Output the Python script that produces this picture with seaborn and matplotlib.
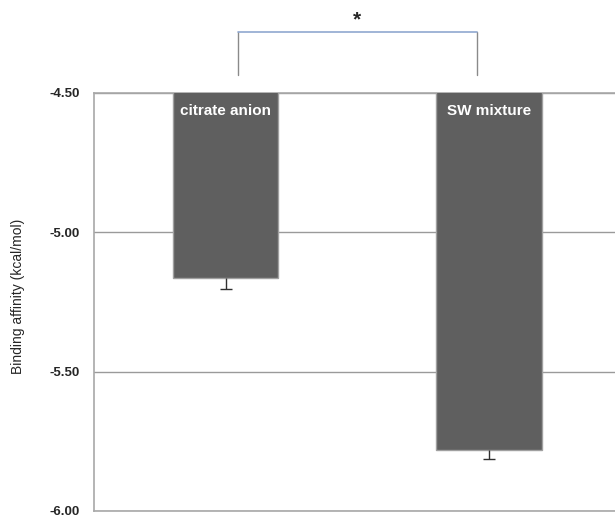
import matplotlib
matplotlib.use("Agg")
import matplotlib.pyplot as plt
import seaborn as sns
import pandas as pd

# Docking results: mean binding affinity and its error per ligand
ligands = ["citrate anion", "SW mixture"]
affinity = [-5.165, -5.78]
errors = [0.04, 0.035]
yticks = [-6.00, -5.50, -5.00, -4.50]
ylabel = "Binding affinity (kcal/mol)"
significance = "*"

df = pd.DataFrame({"ligand": ligands, "affinity": affinity})

sns.set_style("white")
plt.rcParams["font.family"] = ["Liberation Sans", "DejaVu Sans"]

fig = plt.figure(figsize=(6.15, 5.15), dpi=100)
ax = fig.add_axes([0.1528, 0.0078, 0.8565, 0.8117])

sns.barplot(data=df, x="ligand", y="affinity", order=ligands, color="#5f5f5f",
            saturation=1, width=0.4, edgecolor="#a0a0a0", linewidth=1.0,
            errorbar=None, ax=ax, zorder=3)

# downward error bars only, with a single cap at the lower end
for i, (v, e) in enumerate(zip(affinity, errors)):
    _, caps, _ = ax.errorbar(i, v, yerr=[[e], [0]], fmt="none", ecolor="#303030",
                             elinewidth=1.0, capsize=4.5, capthick=1.0, zorder=4)
    if len(caps) > 1:
        caps[1].set_visible(False)

ax.set_xlim(-0.5, 1.5)
ax.set_ylim(-6.0, -4.5)
ax.set_yticks(yticks)
ax.set_yticklabels([f"{t:.2f}" for t in yticks], fontsize=9.5, fontweight="bold")
ax.set_xticks([])
ax.set_xlabel("")
ax.set_ylabel(ylabel, fontsize=10)
ax.yaxis.set_label_coords(-0.13, 0.514)
ax.tick_params(axis="y", length=0, pad=10)
ax.grid(axis="y", color="#9a9a9a", linewidth=1.0, zorder=0)
for side in ["left", "top", "bottom", "right"]:
    ax.spines[side].set_color("#a8a8a8")
    ax.spines[side].set_linewidth(1.2)

# ligand names inside the bars
for i, name in enumerate(ligands):
    ax.text(i, -4.565, name, ha="center", va="center", color="white",
            fontsize=11, fontweight="bold", zorder=5)

# significance bracket above the plot area
trans = ax.get_xaxis_transform()
x0, x1 = 0.045, 0.955
y_low, y_high = 1.042, 1.145
ax.plot([x0, x0], [y_low, y_high], color="#8a8a8a", linewidth=1.0,
        transform=trans, clip_on=False)
ax.plot([x1, x1], [y_low, y_high], color="#8a8a8a", linewidth=1.0,
        transform=trans, clip_on=False)
ax.plot([x0, x1], [y_high, y_high], color="#90a8d0", linewidth=1.2,
        transform=trans, clip_on=False)
ax.text((x0 + x1) / 2, y_high + 0.008, significance, ha="center", va="bottom",
        fontsize=15, fontweight="bold", transform=trans)

fig.savefig("out.png", dpi=100)
